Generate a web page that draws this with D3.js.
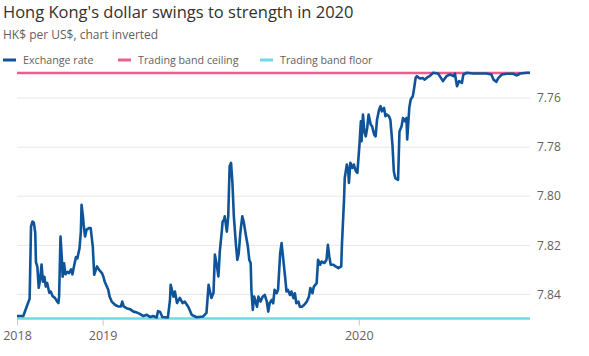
<!DOCTYPE html>
<html>
<head>
<meta charset="utf-8">
<script src="https://cdn.jsdelivr.net/npm/d3@7"></script>
<style>
  body { margin: 0; background: #fff; }
  text { font-family: "Open Sans", "Noto Sans", sans-serif; }
</style>
</head>
<body>
<svg id="chart" width="589" height="356"></svg>
<script>
// ---- Data ----
const startDate = "2018-09-01";
const endDate = "2020-09-01";
// days since startDate
const dayOffsets = [0,4,9,14,16,18,20,22,24,26,27,29,31,33,35,37,39,41,43,46,48,51,54,57,59,60,62,64,65,67,69,72,74,77,79,81,84,86,89,91,92,94,95,97,99,102,105,108,110,114,117,121,123,125,128,130,132,135,140,144,148,150,152,156,161,166,171,175,180,185,190,194,199,201,204,207,215,218,219,223,225,228,232,236,239,244,249,256,265,270,273,275,277,280,282,285,287,289,292,293,295,296,299,301,303,305,307,309,312,314,316,318,319,321,323,326,329,331,333,334,336,338,340,342,344,347,350,353,356,358,360,363,365,367,370,372,375,377,379,382,384,386,389,391,394,396,398,401,403,406,409,413,416,418,421,423,427,429,432,434,438,441,443,445,447,451,454,458,462,463,465,466,467,470,472,473,475,478,480,483,485,488,490,491,493,495,497,499,501,504,506,509,511,513,516,518,520,523,525,527,530,532,535,537,539,543,545,548,550,553,555,556,559,561,564,566,568,570,573,575,578,581,585,588,593,600,607,612,617,622,624,627,630,634,636,641,650,660,669,676,679,683,686,691,698,707,712,717,726,731];
const exchangeRate = [7.849,7.849,7.849,7.845,7.8435,7.842,7.8125,7.8105,7.811,7.815,7.827,7.829,7.8375,7.834,7.828,7.835,7.833,7.837,7.8355,7.8395,7.839,7.841,7.8416,7.843,7.8437,7.841,7.8166,7.826,7.833,7.8275,7.832,7.831,7.8315,7.830,7.832,7.829,7.825,7.8255,7.8215,7.8146,7.8037,7.8084,7.8118,7.8166,7.8139,7.8132,7.8132,7.8207,7.8322,7.8288,7.8302,7.8315,7.8329,7.835,7.837,7.8383,7.8411,7.8431,7.8445,7.8451,7.8451,7.8431,7.8451,7.8458,7.8462,7.8472,7.8476,7.8481,7.849,7.8485,7.8494,7.849,7.8496,7.847,7.8473,7.8494,7.8496,7.8424,7.8363,7.8411,7.839,7.8437,7.8416,7.8437,7.8431,7.8452,7.8485,7.8495,7.8492,7.8477,7.8363,7.839,7.8416,7.8396,7.824,7.8288,7.8329,7.8227,7.8139,7.8105,7.8098,7.8084,7.8146,7.8084,7.788,7.7866,7.7948,7.8084,7.82,7.8261,7.8234,7.8159,7.8132,7.8084,7.8105,7.8159,7.8207,7.8261,7.8275,7.8384,7.8465,7.8411,7.8431,7.8452,7.8411,7.8431,7.8411,7.8404,7.8431,7.8472,7.8438,7.8424,7.8438,7.8383,7.8397,7.8383,7.8234,7.8193,7.8247,7.8329,7.839,7.8383,7.8404,7.839,7.8417,7.8397,7.8438,7.8431,7.8452,7.8452,7.8445,7.8431,7.8411,7.8376,7.8397,7.837,7.8356,7.8261,7.8281,7.8268,7.8274,7.8261,7.82,7.8247,7.8281,7.8281,7.8288,7.8295,7.8288,7.82,7.8077,7.8016,7.7928,7.7873,7.7901,7.7948,7.7866,7.7887,7.7873,7.7901,7.7907,7.7792,7.7697,7.7778,7.7669,7.7738,7.7758,7.7724,7.7669,7.771,7.7717,7.7751,7.7758,7.769,7.7649,7.7635,7.7656,7.7642,7.7676,7.7669,7.7676,7.769,7.7792,7.7901,7.7928,7.7935,7.7738,7.7717,7.7683,7.7697,7.7683,7.7771,7.7642,7.7608,7.7595,7.756,7.752,7.7513,7.752,7.7522,7.752,7.7527,7.7517,7.7513,7.7499,7.7502,7.7533,7.7513,7.7506,7.7513,7.7502,7.7554,7.7533,7.754,7.7506,7.7499,7.7502,7.7502,7.7502,7.7506,7.7527,7.7536,7.752,7.7506,7.7503,7.7503,7.751,7.7502,7.7499,7.7499];
const bandCeiling = 7.75;
const bandFloor = 7.85;
const yTicks = [7.76, 7.78, 7.80, 7.82, 7.84];
const xTickDates = ["2018-09-01", "2019-01-01", "2020-01-01"];
const xTickLabels = ["2018", "2019", "2020"];
const legendLabels = ["Exchange rate", "Trading band ceiling", "Trading band floor"];
const seriesColors = ["#0f5499", "#eb5e8d", "#70d9e3"];

// ---- Layout ----
const svg = d3.select("#chart");
const margin = { left: 17, right: 59, top: 73, bottom: 38 };
const W = 589, H = 356;
const parse = d3.utcParse("%Y-%m-%d");
const t0 = parse(startDate), t1 = parse(endDate);

const x = d3.scaleUtc().domain([t0, t1]).range([margin.left, W - margin.right]);
const y = d3.scaleLinear().domain([bandCeiling, bandFloor]).range([73, 318.5]);

const data = dayOffsets.map((d, i) => ({ date: d3.utcDay.offset(t0, d), value: exchangeRate[i] }));

// Title & subtitle
svg.append("text").attr("x", 3).attr("y", 18)
  .attr("font-size", 16.5).attr("fill", "#33302e")
  .text("Hong Kong's dollar swings to strength in 2020");
svg.append("text").attr("x", 3).attr("y", 39)
  .attr("font-size", 12).attr("fill", "#66605c")
  .text("HK$ per US$, chart inverted");

// Legend
const legendX = [3, 118, 260];
legendLabels.forEach((lab, i) => {
  svg.append("line").attr("x1", legendX[i]).attr("x2", legendX[i] + 13)
    .attr("y1", 60).attr("y2", 60)
    .attr("stroke", seriesColors[i]).attr("stroke-width", 3);
  svg.append("text").attr("x", legendX[i] + 20).attr("y", 64)
    .attr("font-size", 10.7).attr("fill", "#66605c").text(lab);
});

// Gridlines + y axis labels
const yAxis = d3.axisRight(y).tickValues(yTicks).tickSize(W - margin.right - margin.left)
  .tickFormat(d3.format(".2f"));
const gy = svg.append("g").attr("transform", `translate(${margin.left},0)`).call(yAxis);
gy.select(".domain").remove();
gy.selectAll(".tick line").attr("stroke", "#ebe7e4").attr("stroke-width", 1);
gy.selectAll(".tick text").attr("x", W - margin.right - margin.left + 7).attr("dy", "0.35em")
  .attr("fill", "#66605c").attr("font-size", 12)
  .attr("font-family", "'Open Sans', 'Noto Sans', sans-serif");

// X axis
const xAxis = d3.axisBottom(x).tickValues(xTickDates.map(parse)).tickSize(7).tickSizeOuter(0)
  .tickFormat((d, i) => xTickLabels[i]);
const gx = svg.append("g").attr("transform", `translate(0,${y(bandFloor)})`).call(xAxis);
gx.select(".domain").remove();
gx.selectAll(".tick line").attr("stroke", "#ccc6c2");
gx.selectAll(".tick text").attr("y", 13).attr("fill", "#66605c").attr("font-size", 12.5)
  .attr("font-family", "'Open Sans', 'Noto Sans', sans-serif");

// Band lines
svg.append("line").attr("x1", x(t0)).attr("x2", x(t1))
  .attr("y1", y(bandCeiling)).attr("y2", y(bandCeiling))
  .attr("stroke", seriesColors[1]).attr("stroke-width", 2.5);
svg.append("line").attr("x1", x(t0)).attr("x2", x(t1))
  .attr("y1", y(bandFloor)).attr("y2", y(bandFloor))
  .attr("stroke", seriesColors[2]).attr("stroke-width", 2.5);

// Exchange rate line
svg.append("path").datum(data)
  .attr("fill", "none").attr("stroke", seriesColors[0]).attr("stroke-width", 2.6)
  .attr("stroke-linejoin", "round")
  .attr("d", d3.line().x(d => x(d.date)).y(d => y(d.value)));
</script>
</body>
</html>
